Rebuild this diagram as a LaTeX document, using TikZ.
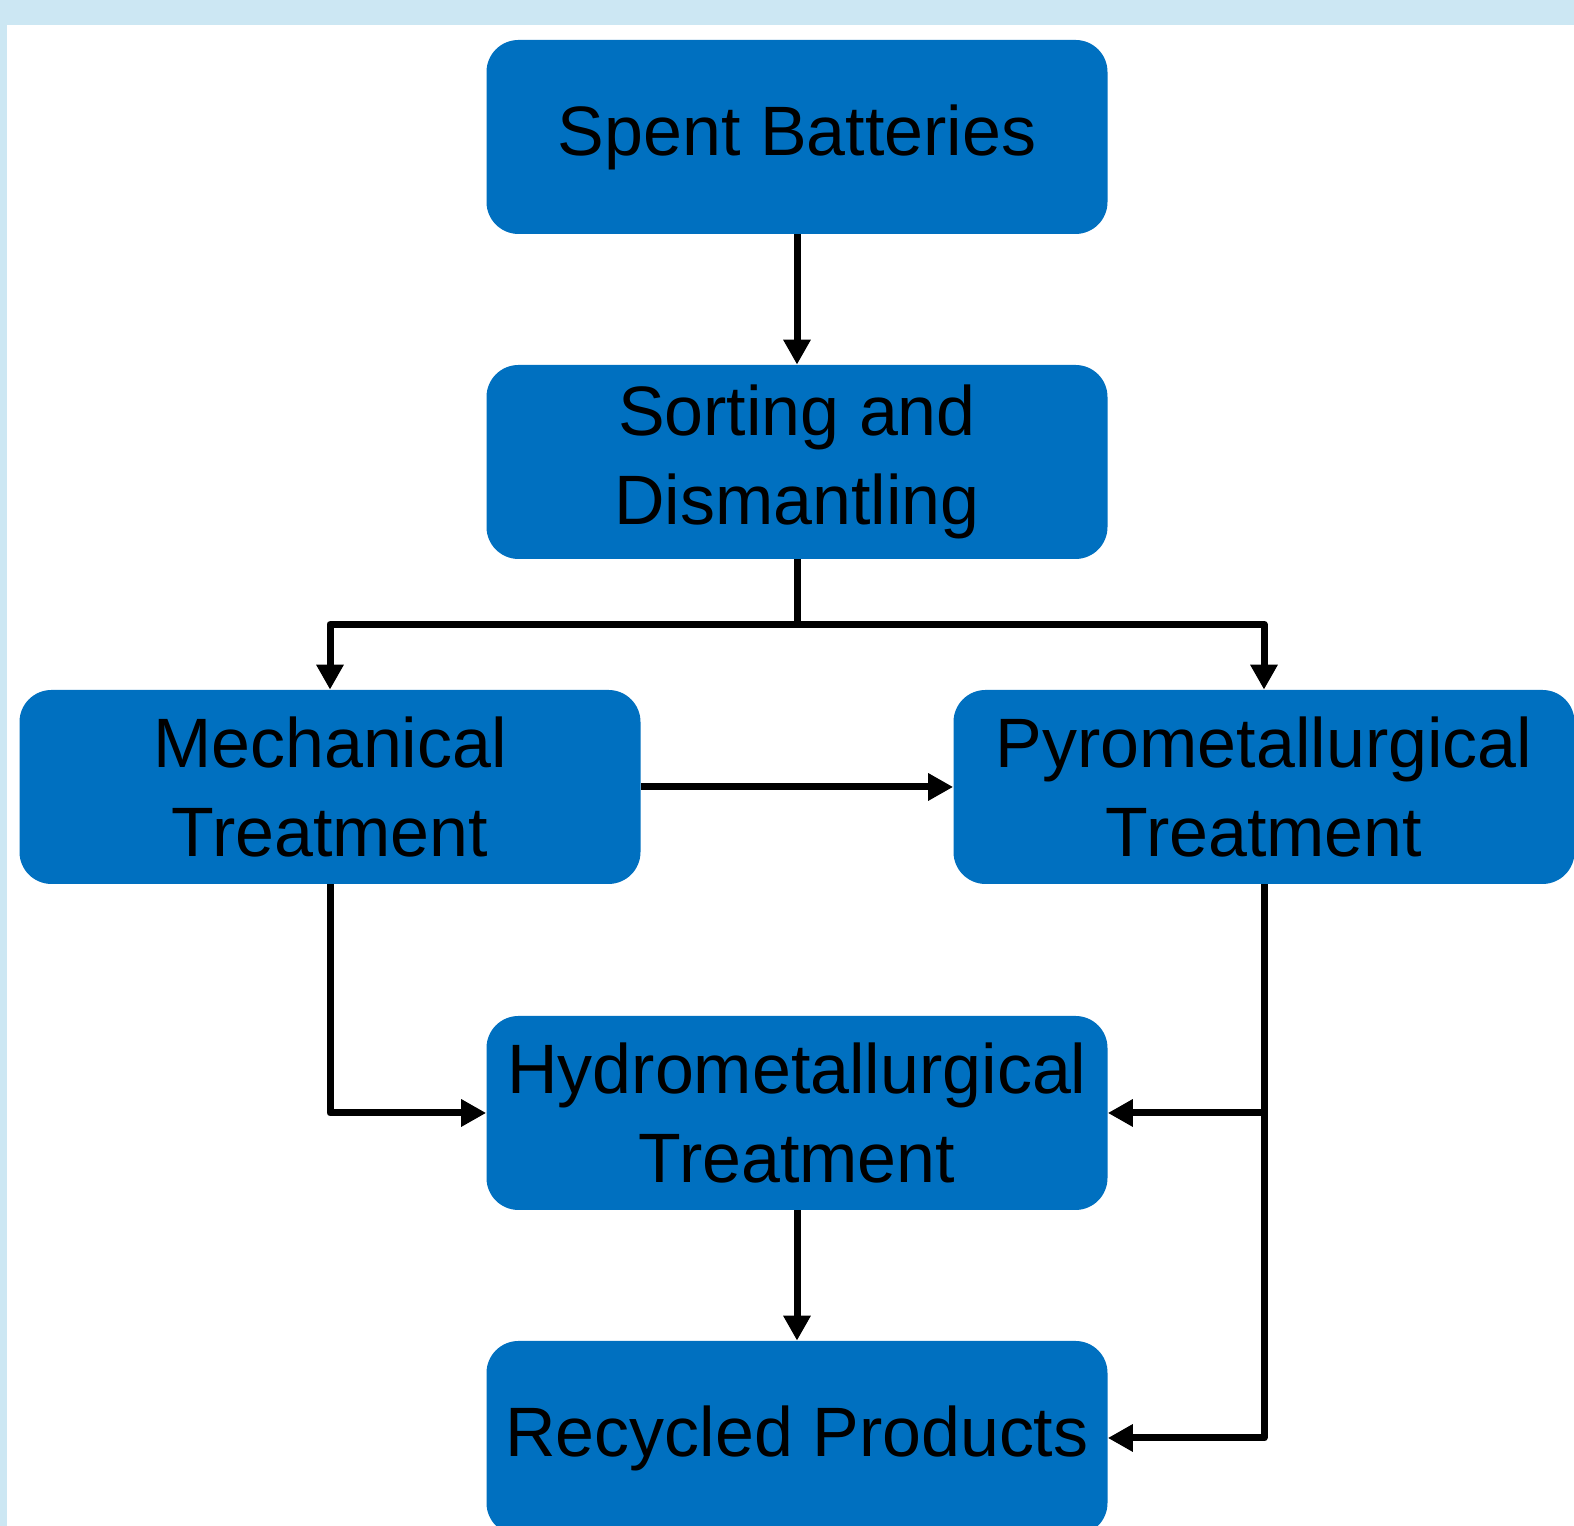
\documentclass[tikz,border=0pt]{standalone}
\usepackage{fontspec}
\setmainfont{Liberation Sans}
\usetikzlibrary{arrows.meta}
\definecolor{boxblue}{RGB}{0,112,192}
\definecolor{framebg}{RGB}{204,231,243}

\begin{document}
\begin{tikzpicture}[
  stage/.style={fill=boxblue, rounded corners=0.64cm, minimum width=12.42cm, minimum height=3.88cm,
    inner sep=0pt, align=center, font=\fontsize{39.8}{50.2}\selectfont},
  link/.style={line width=0.14cm, line join=round},
  flow/.style={link, -{Triangle[length=0.5cm,width=0.52cm]}}
]
\useasboundingbox (0,0) rectangle (31.48,30.52);
\fill[framebg] (0,0) rectangle (31.48,30.52);
\fill[white] (0.13,0) rectangle (31.48,30.02);
\node[stage] (spent) at (15.94,27.78) {Spent Batteries};
\node[stage] (sort) at (15.94,21.28) {Sorting and\\Dismantling};
\node[stage] (mech) at (6.60,14.78) {Mechanical\\Treatment};
\node[stage] (pyro) at (25.28,14.78) {Pyrometallurgical\\Treatment};
\node[stage] (hydro) at (15.94,8.26) {Hydrometallurgical\\Treatment};
\node[stage] (recyc) at (15.94,1.76) {Recycled Products};
\draw[flow] (spent) -- (sort);
\draw[link] (sort.south) -- ++(0,-1.3) coordinate (split);
\draw[flow] (split) -| (mech.north);
\draw[flow] (split) -| (pyro.north);
\draw[flow] (mech) -- (pyro);
\draw[flow] (mech.south) |- (hydro.west);
\draw[flow] (pyro.south) |- (recyc.east);
\draw[flow] (pyro.south |- hydro.east) -- (hydro.east);
\draw[flow] (hydro) -- (recyc);
\end{tikzpicture}
\end{document}
